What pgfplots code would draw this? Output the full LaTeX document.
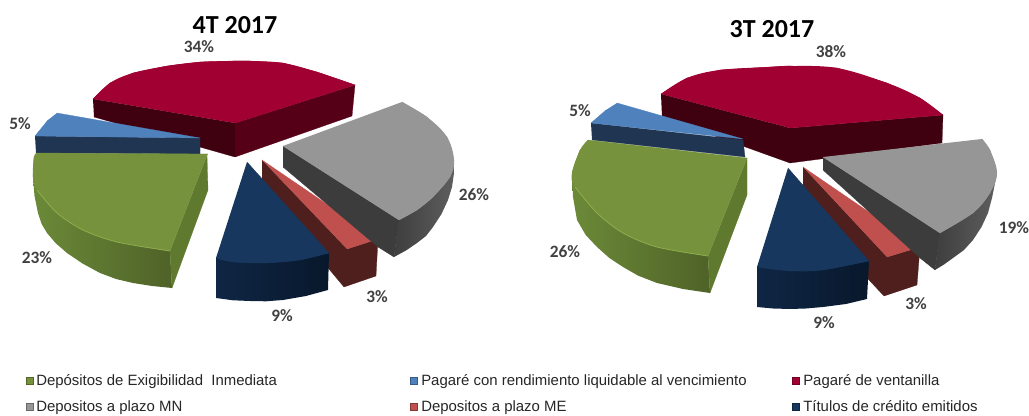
\documentclass[border=0pt]{standalone}
\usepackage{fontspec}
\setmainfont{Liberation Sans}
\newfontfamily\calib{Carlito}
\usepackage{pgfplots}
\pgfplotsset{compat=1.18}

% slice colours
\definecolor{redtop}{HTML}{A10033}
\definecolor{redwallL}{HTML}{3F0010}
\definecolor{redwallR}{HTML}{560018}
\definecolor{bluetop}{HTML}{4F81BD}
\definecolor{bluewall}{HTML}{1F3552}
\definecolor{greentop}{HTML}{76923C}
\definecolor{greenA}{HTML}{6B8A38}
\definecolor{greenB}{HTML}{4F6228}
\definecolor{greenR}{HTML}{5F7A2E}
\definecolor{greenlip}{HTML}{8DAE4C}
\definecolor{greytop}{HTML}{969696}
\definecolor{greyin}{HTML}{3C3C3C}
\definecolor{greyA}{HTML}{3E3E3E}
\definecolor{greyB}{HTML}{5E5E5E}
\definecolor{mredtop}{HTML}{C0504D}
\definecolor{mredwall}{HTML}{4E1F1C}
\definecolor{navytop}{HTML}{17375E}
\definecolor{navyA}{HTML}{0F2644}
\definecolor{navyB}{HTML}{08182C}

\pgfplotsset{
  face/.style={draw=#1, line width=.2pt, fill=#1},
  arc/.style={draw=none, fill=#1, smooth, tension=.6},
  sface/.style 2 args={draw=none, left color=#1, right color=#2},
  leg/.style={only marks, mark=square*, mark size=2.6pt, mark options={draw=#1!70!black, fill=#1}},
}

\begin{document}
\begin{tikzpicture}
\begin{axis}[
  scale only axis, width=771.75pt, height=312pt,
  xmin=0, xmax=1029, ymin=0, ymax=416, y dir=reverse,
  hide axis, clip=false,
]
% ---- 4T 2017
\addplot[face=redwallL] coordinates {(93,99) (235,123) (235,157) (94,117)};
\addplot[face=redwallR] coordinates {(235,123) (355,85) (352,116) (235,157)};
\addplot[face=redtop] coordinates {(93,99) (110,83) (133,73) (167,66) (200,62) (233,61) (250,61) (283,63) (317,72) (355,85) (235,123)};
\addplot[arc=redtop] coordinates {(93,99) (110,83) (133,73) (167,66) (200,62) (233,61) (250,61) (283,63) (317,72) (355,85)};
\addplot[face=bluewall] coordinates {(35,136) (200,138) (200,154) (36,153)};
\addplot[face=bluetop] coordinates {(57,113) (200,138) (35,136) (48,120)};
\addplot[sface={greenA}{greenB}] coordinates {(33,177) (34.5,196) (38,213) (41.6,224) (47,233) (55.5,243) (67,253) (82.7,263.6) (100,273) (116,279) (133,283) (152,286) (172,288) (170,251) (100,215) (37,175)};
\addplot[face=greenR] coordinates {(207,155) (208,190) (172,288) (170,251)};
\addplot[face=greentop] coordinates {(37,153) (208,154) (207,155) (170,251) (117,242) (83,230) (57,213) (37,190) (33,177) (34,157)};
\addplot[arc=greentop] coordinates {(37,153) (34,157) (33,177) (37,190) (57,213) (83,230) (117,242) (170,251)};
\addplot[color=greenlip, line width=.6pt, smooth] coordinates {(37,190) (57,213) (83,230) (117,242) (170,251)};
\addplot[face=mredwall] coordinates {(262,160) (347,249) (378,239) (376,276) (344,287) (329,269) (262,180)};
\addplot[face=mredtop] coordinates {(262,160) (378,239) (347,249)};
\addplot[face=greyin] coordinates {(283,146) (399,220) (394,257) (378,247) (283,167)};
\addplot[sface={greyA}{greyB}] coordinates {(399,215) (440,170) (454,160) (454,173) (452,187) (448,200) (441.5,214) (433,227) (426,236) (417,243) (406,250.5) (394,257)};
\addplot[face=greytop] coordinates {(402,102) (427,117) (447,137) (454,160) (450,177) (433,197) (417,210) (399,220) (283,146)};
\addplot[arc=greytop] coordinates {(402,102) (427,117) (447,137) (454,160) (450,177) (433,197) (417,210) (399,220)};
\addplot[sface={navyA}{navyB}] coordinates {(216,258) (329,253) (328,290) (306,296) (283,300) (266,301.3) (250,301) (233,300.3) (216,298)};
\addplot[face=navytop] coordinates {(247,162) (329,253) (300,260) (267,263) (233,262) (216,258)};
\addplot[arc=navytop] coordinates {(329,253) (300,260) (267,263) (233,262) (216,258)};
% ---- 3T 2017
\addplot[face=redwallL] coordinates {(661,94) (790,128) (790,163) (662,117)};
\addplot[face=redwallL] coordinates {(790,128) (943,115) (942,143) (790,163)};
\addplot[face=redtop] coordinates {(661,94) (687,78) (720,70) (770,67) (790,66) (837,68) (887,83) (920,98) (943,115) (790,128)};
\addplot[arc=redtop] coordinates {(661,94) (687,78) (720,70) (770,67) (790,66) (837,68) (887,83) (920,98) (943,115)};
\addplot[face=bluewall] coordinates {(591,123) (743,140) (745,157) (592,140)};
\addplot[face=bluetop] coordinates {(617,103) (743,139) (591,123) (606,110)};
\addplot[sface={greenA}{greenB}] coordinates {(572,173) (573,197) (577,220) (585.7,235) (597,247) (609,257.7) (623,267) (638,275.6) (657,283) (683,289) (710,293) (708,256) (640,215) (575,172)};
\addplot[face=greenR] coordinates {(747,158) (747,195) (710,293) (708,256)};
\addplot[face=greentop] coordinates {(588,140) (747,158) (708,256) (657,247) (623,233) (597,213) (575,187) (572,173) (580,150)};
\addplot[arc=greentop] coordinates {(588,140) (580,150) (572,173) (575,187) (597,213) (623,233) (657,247) (708,256)};
\addplot[color=greenlip, line width=.6pt, smooth] coordinates {(575,187) (597,213) (623,233) (657,247) (708,256)};
\addplot[face=mredwall] coordinates {(803,167) (887,257) (920,247) (917,285) (884,296) (869,280) (803,187)};
\addplot[face=mredtop] coordinates {(803,167) (920,247) (887,257)};
\addplot[face=greyin] coordinates {(823,157) (940,233) (935,270) (920,258) (823,170)};
\addplot[sface={greyA}{greyB}] coordinates {(940,228) (985,175) (997,173) (995,183) (992,198) (988,213) (981.5,227) (973,240) (964,250) (953,258) (944,264.5) (935,270)};
\addplot[face=greytop] coordinates {(982,139) (990,150) (997,173) (990,193) (973,213) (940,233) (823,157)};
\addplot[arc=greytop] coordinates {(982,139) (990,150) (997,173) (990,193) (973,213) (940,233)};
\addplot[sface={navyA}{navyB}] coordinates {(757,267) (869,261) (867,299) (846,304) (823,307) (806,308.5) (790,309) (773,308.5) (757,307)};
\addplot[face=navytop] coordinates {(788,168) (869,261) (823,270) (790,271) (757,267)};
\addplot[arc=navytop] coordinates {(869,261) (823,270) (790,271) (757,267)};
% ---- legend squares
\addplot[leg=greentop] coordinates {(30,381)};
\addplot[leg=bluetop] coordinates {(414,381)};
\addplot[leg=redtop] coordinates {(796,381)};
\addplot[leg=greytop] coordinates {(30,407)};
\addplot[leg=mredtop] coordinates {(414,407)};
\addplot[leg=navytop] coordinates {(796,407)};
% ---- text
\node[font=\calib\bfseries\fontsize{19.5}{21}\selectfont] at (axis cs:235,25) {4T 2017};
\node[font=\calib\bfseries\fontsize{19.5}{21}\selectfont] at (axis cs:772,29) {3T 2017};
\foreach \x/\y/\t in {199/47/34, 20/124/5, 37/258/23, 282/316/9, 377/297/3, 474/195/26,
                      831/52/38, 580/111/5, 565/252/26, 824/323/9, 916/304/3, 1014/228/19} {
  \edef\tmp{\noexpand\node[font=\noexpand\calib\noexpand\bfseries\noexpand\fontsize{13}{15}\noexpand\selectfont, text=black!75] at (axis cs:\x,\y) {\t\noexpand\%};}
  \tmp
}
\foreach \x/\y/\t in {36/386/{Depósitos de Exigibilidad~~Inmediata}, 421/386/{Pagaré con rendimiento liquidable al vencimiento}, 803/386/{Pagaré de ventanilla},
                      36/412/{Depositos a plazo MN}, 421/412/{Depositos a plazo ME}, 803/412/{Títulos de crédito emitidos}} {
  \edef\tmp{\noexpand\node[anchor=base west, inner sep=0pt, font=\noexpand\fontsize{11.2}{13}\noexpand\selectfont, text=black!85] at (axis cs:\x,\y) {\unexpanded\expandafter{\t}};}
  \tmp
}
\end{axis}
\pgfresetboundingbox
\path[use as bounding box] (0,0) rectangle (771.75pt,312pt);
\end{tikzpicture}
\end{document}
